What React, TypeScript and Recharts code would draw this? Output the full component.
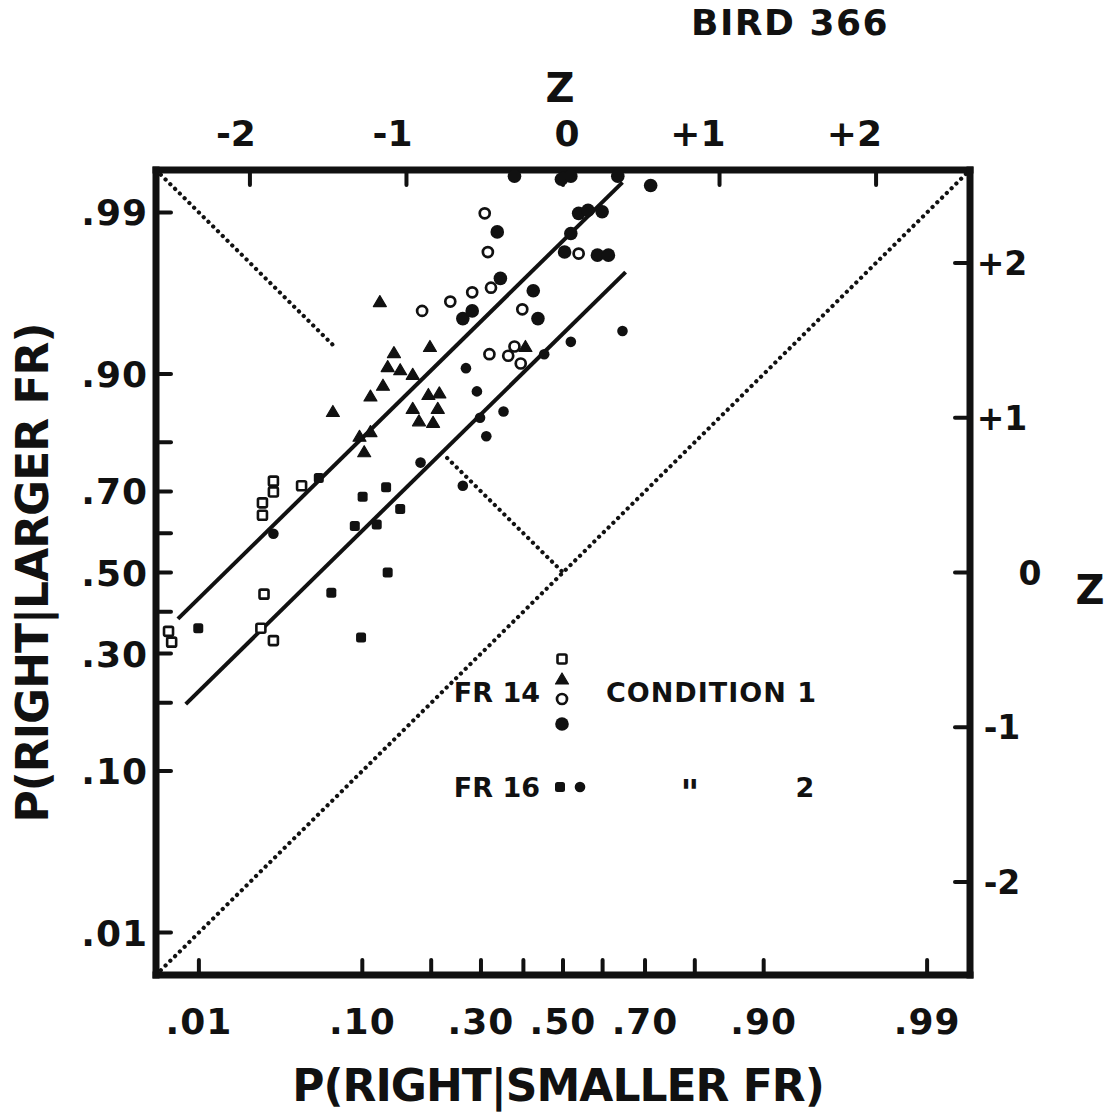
import React from 'react';
import { ScatterChart, Scatter, XAxis, YAxis, ReferenceLine } from 'recharts';

// both axes are in normal-deviate (z) units
const DOMAIN: [number, number] = [-2.6, 2.6];

const probTicks = [-2.326, -1.282, -0.842, -0.524, -0.253, 0, 0.253, 0.524, 0.842, 1.282, 2.326];
const probLabels = ['.01', '.10', '', '.30', '', '.50', '', '.70', '', '.90', '.99'];
const zTicks = [-2, -1, 0, 1, 2];
const zLabels = ['-2', '-1', '0', '+1', '+2'];

// FR 14, condition 1
const fr14Squares = [
  { x: -2.52, y: -0.38 }, { x: -2.5, y: -0.45 }, { x: -1.93, y: -0.36 }, { x: -1.91, y: -0.14 },
  { x: -1.85, y: -0.44 }, { x: -1.92, y: 0.45 }, { x: -1.92, y: 0.37 }, { x: -1.85, y: 0.59 },
  { x: -1.85, y: 0.52 }, { x: -1.67, y: 0.56 },
];
const fr14Triangles = [
  { x: -1.17, y: 1.75 }, { x: -1.47, y: 1.04 }, { x: -1.3, y: 0.88 }, { x: -1.23, y: 0.91 },
  { x: -1.27, y: 0.78 }, { x: -1.23, y: 1.14 }, { x: -1.15, y: 1.21 }, { x: -1.08, y: 1.42 },
  { x: -1.12, y: 1.33 }, { x: -1.04, y: 1.31 }, { x: -0.96, y: 1.28 }, { x: -0.85, y: 1.46 },
  { x: -0.86, y: 1.15 }, { x: -0.79, y: 1.16 }, { x: -0.96, y: 1.06 }, { x: -0.92, y: 0.98 },
  { x: -0.8, y: 1.06 }, { x: -0.83, y: 0.97 }, { x: -0.24, y: 1.46 },
];
const fr14Open = [
  { x: -0.5, y: 2.32 }, { x: -0.48, y: 2.07 }, { x: -0.46, y: 1.84 }, { x: -0.58, y: 1.81 },
  { x: -0.72, y: 1.75 }, { x: -0.9, y: 1.69 }, { x: -0.26, y: 1.7 }, { x: 0.1, y: 2.06 },
  { x: -0.47, y: 1.41 }, { x: -0.35, y: 1.4 }, { x: -0.31, y: 1.46 }, { x: -0.27, y: 1.35 },
];
const fr14Filled = [
  { x: -0.31, y: 2.56 }, { x: -0.01, y: 2.54 }, { x: 0.05, y: 2.56 }, { x: 0.35, y: 2.56 },
  { x: 0.56, y: 2.5 }, { x: 0.1, y: 2.32 }, { x: 0.16, y: 2.34 }, { x: 0.25, y: 2.33 },
  { x: 0.05, y: 2.19 }, { x: -0.42, y: 2.2 }, { x: 0.01, y: 2.07 }, { x: 0.22, y: 2.05 },
  { x: 0.29, y: 2.05 }, { x: -0.4, y: 1.9 }, { x: -0.19, y: 1.82 }, { x: -0.16, y: 1.64 },
  { x: -0.64, y: 1.64 }, { x: -0.58, y: 1.69 },
];

// FR 16, condition 2
const fr16Squares = [
  { x: -2.33, y: -0.36 }, { x: -1.56, y: 0.61 }, { x: -1.48, y: -0.13 }, { x: -1.29, y: -0.42 },
  { x: -1.33, y: 0.3 }, { x: -1.19, y: 0.31 }, { x: -1.13, y: 0.55 }, { x: -1.28, y: 0.49 },
  { x: -1.04, y: 0.41 }, { x: -1.12, y: 0.0 },
];
const fr16Dots = [
  { x: -1.85, y: 0.25 }, { x: -0.91, y: 0.71 }, { x: -0.64, y: 0.56 }, { x: -0.62, y: 1.32 },
  { x: -0.55, y: 1.17 }, { x: -0.53, y: 1.0 }, { x: -0.49, y: 0.88 }, { x: -0.38, y: 1.04 },
  { x: -0.12, y: 1.41 }, { x: 0.05, y: 1.49 }, { x: 0.38, y: 1.56 },
];

// fitted lines and reference diagonals
const fit14 = [{ x: -2.46, y: -0.3 }, { x: 0.38, y: 2.52 }];
const fit16 = [{ x: -2.41, y: -0.85 }, { x: 0.4, y: 1.94 }];
const chanceDiag = [{ x: -2.6, y: -2.6 }, { x: 2.6, y: 2.6 }];
const negDiagTop = [{ x: -2.6, y: 2.6 }, { x: -1.46, y: 1.46 }];
const negDiagMid = [{ x: -0.74, y: 0.74 }, { x: 0, y: 0 }];

const FONT = '"DejaVu Sans", sans-serif';
const INK = '#111';

const OpenSquare = ({ cx, cy }: any) => (
  <rect x={cx - 4.5} y={cy - 4.5} width={9} height={9} rx={1.5} fill="#fff" stroke={INK} strokeWidth={2.6} />
);
const FilledSquare = ({ cx, cy }: any) => (
  <rect x={cx - 5} y={cy - 5} width={10} height={10} rx={2.5} fill={INK} />
);
const Triangle = ({ cx, cy }: any) => (
  <path d={`M${cx},${cy - 6} L${cx + 6.5},${cy + 5} L${cx - 6.5},${cy + 5} Z`} fill={INK} strokeLinejoin="round" stroke={INK} strokeWidth={1.2} />
);
const OpenCircle = ({ cx, cy }: any) => (
  <circle cx={cx} cy={cy} r={5} fill="#fff" stroke={INK} strokeWidth={2.7} />
);
const BigDot = ({ cx, cy }: any) => <circle cx={cx} cy={cy} r={6.8} fill={INK} />;
const SmallDot = ({ cx, cy }: any) => <circle cx={cx} cy={cy} r={5.3} fill={INK} />;
const Nothing = () => <g />;

const tickText = { fontFamily: FONT, fontWeight: 700, fill: INK } as const;

const BottomTick = ({ x, y, payload }: any) => {
  const i = probTicks.indexOf(payload.value);
  return (
    <g>
      <line x1={x} y1={y - 3} x2={x} y2={y - 15} stroke={INK} strokeWidth={4} strokeLinecap="round" />
      <text x={x} y={y + 59} textAnchor="middle" fontSize={36} letterSpacing={1} {...tickText}>{probLabels[i]}</text>
    </g>
  );
};
const LeftTick = ({ x, y, payload }: any) => {
  const i = probTicks.indexOf(payload.value);
  return (
    <g>
      <line x1={x + 3} y1={y} x2={x + 15} y2={y} stroke={INK} strokeWidth={4} strokeLinecap="round" />
      <text x={x - 8} y={y + 13} textAnchor="end" fontSize={36} letterSpacing={1} {...tickText}>{probLabels[i]}</text>
    </g>
  );
};
const TopTick = ({ x, y, payload }: any) => {
  const i = zTicks.indexOf(payload.value);
  const zero = payload.value === 0;
  return (
    <g>
      <line x1={x} y1={y + 3} x2={x} y2={y + 15} stroke={INK} strokeWidth={4} strokeLinecap="round" />
      <text x={zero ? x + 4 : x + 6} y={y - 24} textAnchor={zero ? 'middle' : 'end'} fontSize={36} {...tickText}>{zLabels[i]}</text>
    </g>
  );
};
const RightTick = ({ x, y, payload }: any) => {
  const i = zTicks.indexOf(payload.value);
  const zero = payload.value === 0;
  return (
    <g>
      <line x1={x - 3} y1={y} x2={x - 15} y2={y} stroke={INK} strokeWidth={4} strokeLinecap="round" />
      <text x={zero ? x + 60 : x + 32} y={y + 12} textAnchor="middle" fontSize={33} {...tickText}>{zLabels[i]}</text>
    </g>
  );
};

const axisLine = { stroke: INK, strokeWidth: 7, strokeLinecap: 'square' as const };

function Overlay() {
  const t = { fontFamily: FONT, fontWeight: 700, fill: INK } as const;
  return (
    <svg width={1119} height={1116} style={{ position: 'absolute', left: 0, top: 0, pointerEvents: 'none' }}>
      <text x={790} y={35} textAnchor="middle" fontSize={36} letterSpacing={1.5} {...t}>BIRD 366</text>
      <text x={560} y={102} textAnchor="middle" fontSize={40} {...t}>Z</text>
      <text x={1090} y={604} textAnchor="middle" fontSize={40} {...t}>Z</text>
      <text x={558} y={1101} textAnchor="middle" fontSize={44} letterSpacing={-1} {...t}>P(RIGHT|SMALLER FR)</text>
      <text x={0} y={0} transform="translate(48,573) rotate(-90)" textAnchor="middle" fontSize={44} letterSpacing={-1} {...t}>P(RIGHT|LARGER FR)</text>

      {/* legend */}
      <text x={540} y={702} textAnchor="end" fontSize={27} {...t}>FR 14</text>
      <OpenSquare cx={562} cy={659} />
      <Triangle cx={562} cy={679} />
      <OpenCircle cx={562} cy={699} />
      <BigDot cx={562} cy={724} />
      <text x={606} y={702} fontSize={27} letterSpacing={1} {...t}>CONDITION 1</text>
      <text x={540} y={797} textAnchor="end" fontSize={27} {...t}>FR 16</text>
      <FilledSquare cx={560} cy={787} />
      <SmallDot cx={580} cy={787} />
      <text x={690} y={805} textAnchor="middle" fontSize={36} {...t}>"</text>
      <text x={805} y={797} textAnchor="middle" fontSize={27} {...t}>2</text>
    </svg>
  );
}

export default function App() {
  return (
    <div style={{ position: 'absolute', left: 0, top: 0, width: 1119, height: 1116, background: '#fff' }}>
      <ScatterChart width={1119} height={1116} margin={{ top: 110, right: 49, bottom: 81, left: 0 }}>
        <XAxis xAxisId="b" dataKey="x" type="number" domain={DOMAIN} allowDataOverflow ticks={probTicks}
          orientation="bottom" height={60} tickSize={0} tickMargin={0} tickLine={false} axisLine={axisLine} tick={BottomTick} interval={0} />
        <XAxis xAxisId="t" dataKey="x" type="number" domain={DOMAIN} allowDataOverflow ticks={zTicks}
          orientation="top" height={60} tickSize={0} tickMargin={0} tickLine={false} axisLine={axisLine} tick={TopTick} interval={0} />
        <YAxis yAxisId="l" dataKey="y" type="number" domain={DOMAIN} allowDataOverflow ticks={probTicks}
          orientation="left" width={156} tickSize={0} tickMargin={0} tickLine={false} axisLine={axisLine} tick={LeftTick} interval={0} />
        <YAxis yAxisId="r" dataKey="y" type="number" domain={DOMAIN} allowDataOverflow ticks={zTicks}
          orientation="right" width={100} tickSize={0} tickMargin={0} tickLine={false} axisLine={axisLine} tick={RightTick} interval={0} />

        <ReferenceLine xAxisId="b" yAxisId="l" segment={chanceDiag} stroke={INK} strokeWidth={4.2} strokeDasharray="0.1 6.6" strokeLinecap="round" ifOverflow="visible" />
        <ReferenceLine xAxisId="b" yAxisId="l" segment={negDiagTop} stroke={INK} strokeWidth={4.2} strokeDasharray="0.1 6.6" strokeLinecap="round" ifOverflow="visible" />
        <ReferenceLine xAxisId="b" yAxisId="l" segment={negDiagMid} stroke={INK} strokeWidth={4.2} strokeDasharray="0.1 6.6" strokeLinecap="round" ifOverflow="visible" />
        <ReferenceLine xAxisId="b" yAxisId="l" segment={fit14} stroke={INK} strokeWidth={4} ifOverflow="visible" />
        <ReferenceLine xAxisId="b" yAxisId="l" segment={fit16} stroke={INK} strokeWidth={4} ifOverflow="visible" />

        <Scatter xAxisId="t" yAxisId="r" data={chanceDiag} shape={Nothing} isAnimationActive={false} />
        <Scatter xAxisId="b" yAxisId="l" data={fr14Squares} shape={OpenSquare} isAnimationActive={false} />
        <Scatter xAxisId="b" yAxisId="l" data={fr14Triangles} shape={Triangle} isAnimationActive={false} />
        <Scatter xAxisId="b" yAxisId="l" data={fr14Open} shape={OpenCircle} isAnimationActive={false} />
        <Scatter xAxisId="b" yAxisId="l" data={fr14Filled} shape={BigDot} isAnimationActive={false} />
        <Scatter xAxisId="b" yAxisId="l" data={fr16Squares} shape={FilledSquare} isAnimationActive={false} />
        <Scatter xAxisId="b" yAxisId="l" data={fr16Dots} shape={SmallDot} isAnimationActive={false} />
      </ScatterChart>
      <Overlay />
    </div>
  );
}
